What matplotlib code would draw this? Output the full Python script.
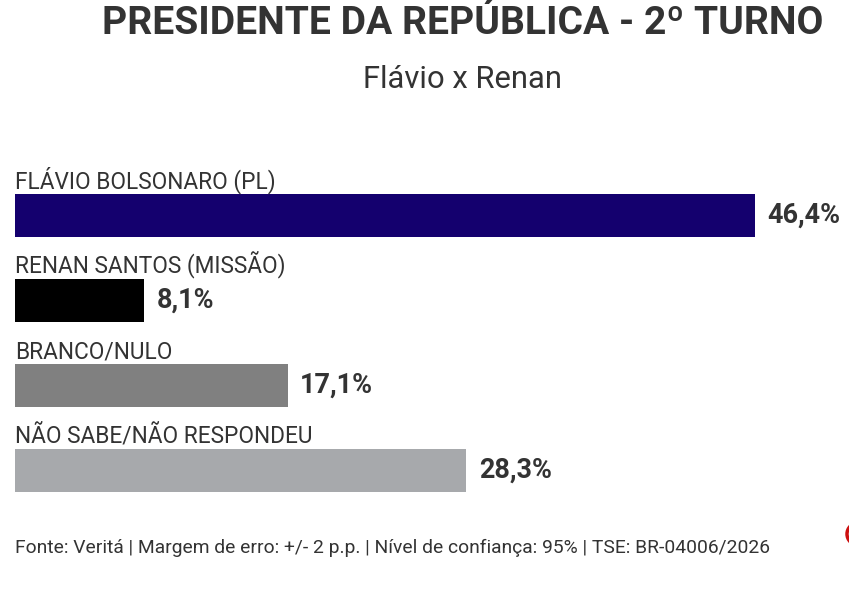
import matplotlib
matplotlib.use('Agg')
import matplotlib.pyplot as plt
from matplotlib.patches import Ellipse

# data
categories = ['FLÁVIO BOLSONARO (PL)', 'RENAN SANTOS (MISSÃO)', 'BRANCO/NULO', 'NÃO SABE/NÃO RESPONDEU']
values = [46.4, 8.1, 17.1, 28.3]
value_labels = ['46,4%', '8,1%', '17,1%', '28,3%']
colors = ['#14006e', '#000000', '#808080', '#a7a9ac']

title = 'PRESIDENTE DA REPÚBLICA - 2º TURNO'
subtitle = 'Flávio x Renan'
footer = 'Fonte: Veritá | Margem de erro: +/- 2 p.p. | Nível de confiança: 95% | TSE: BR-04006/2026'

FONT = ['Liberation Sans Narrow', 'Roboto', 'DejaVu Sans']
TXT = '#333333'
W, H = 849, 594

plt.rcParams['font.family'] = FONT

fig = plt.figure(figsize=(W / 100, H / 100), dpi=100)
fig.patch.set_facecolor('white')

# axes: left edge at 15px, bar pitch 85px, ~15.95px per percent
px_per_pct = 15.95
ax_left, ax_top, ax_bot = 15, 130.5, 555.5
ax = fig.add_axes([ax_left / W, 1 - ax_bot / H, (W - ax_left) / W, (ax_bot - ax_top) / H])
ax.set_xlim(0, (W - ax_left) / px_per_pct)
ax.set_ylim(4.0, -1.0)
ax.axis('off')

bar_h = 43 / 85
ypos = list(range(len(categories)))
ax.barh(ypos, values, height=bar_h, color=colors, align='center')

renderer = fig.canvas.get_renderer()


def fit(t, target_w):
    w = t.get_window_extent(renderer).width
    t.set_fontsize(t.get_fontsize() * target_w / w)


cat_texts = []
val_texts = []
for i, (cat, v, lab) in enumerate(zip(categories, values, value_labels)):
    ct = ax.annotate(cat, xy=(0, i - bar_h / 2), xytext=(0, 4), textcoords='offset points',
                     ha='left', va='baseline', fontsize=15, color=TXT)
    vt = ax.annotate(lab, xy=(v, i), xytext=(9, 0), textcoords='offset points',
                     ha='left', va='center', fontsize=15, color=TXT, fontweight='bold')
    cat_texts.append(ct)
    val_texts.append(vt)

# scale label fonts to the reference widths
w0 = cat_texts[3].get_window_extent(renderer).width
for ct in cat_texts:
    ct.set_fontsize(ct.get_fontsize() * 298 / w0)
w1 = val_texts[0].get_window_extent(renderer).width
for vt in val_texts:
    vt.set_fontsize(vt.get_fontsize() * 73 / w1)

t1 = fig.text(463 / W, 1 - 24 / H, title, ha='center', va='center',
              fontsize=30, fontweight='bold', color=TXT)
fit(t1, 718)
t2 = fig.text(462.5 / W, 1 - 88 / H, subtitle, ha='center', va='baseline',
              fontsize=20, color=TXT)
fit(t2, 199)
t3 = fig.text(15 / W, 1 - 553 / H, footer, ha='left', va='baseline',
              fontsize=12, color=TXT)
fit(t3, 755)

# red mark cut off at the right edge
fig.patches.append(Ellipse((858 / W, 1 - 534 / H), 22 / W, 22 / H, transform=fig.transFigure,
                           facecolor='none', edgecolor='#cc1010', lw=2.5))

fig.savefig('out.png', dpi=100, facecolor='white')
